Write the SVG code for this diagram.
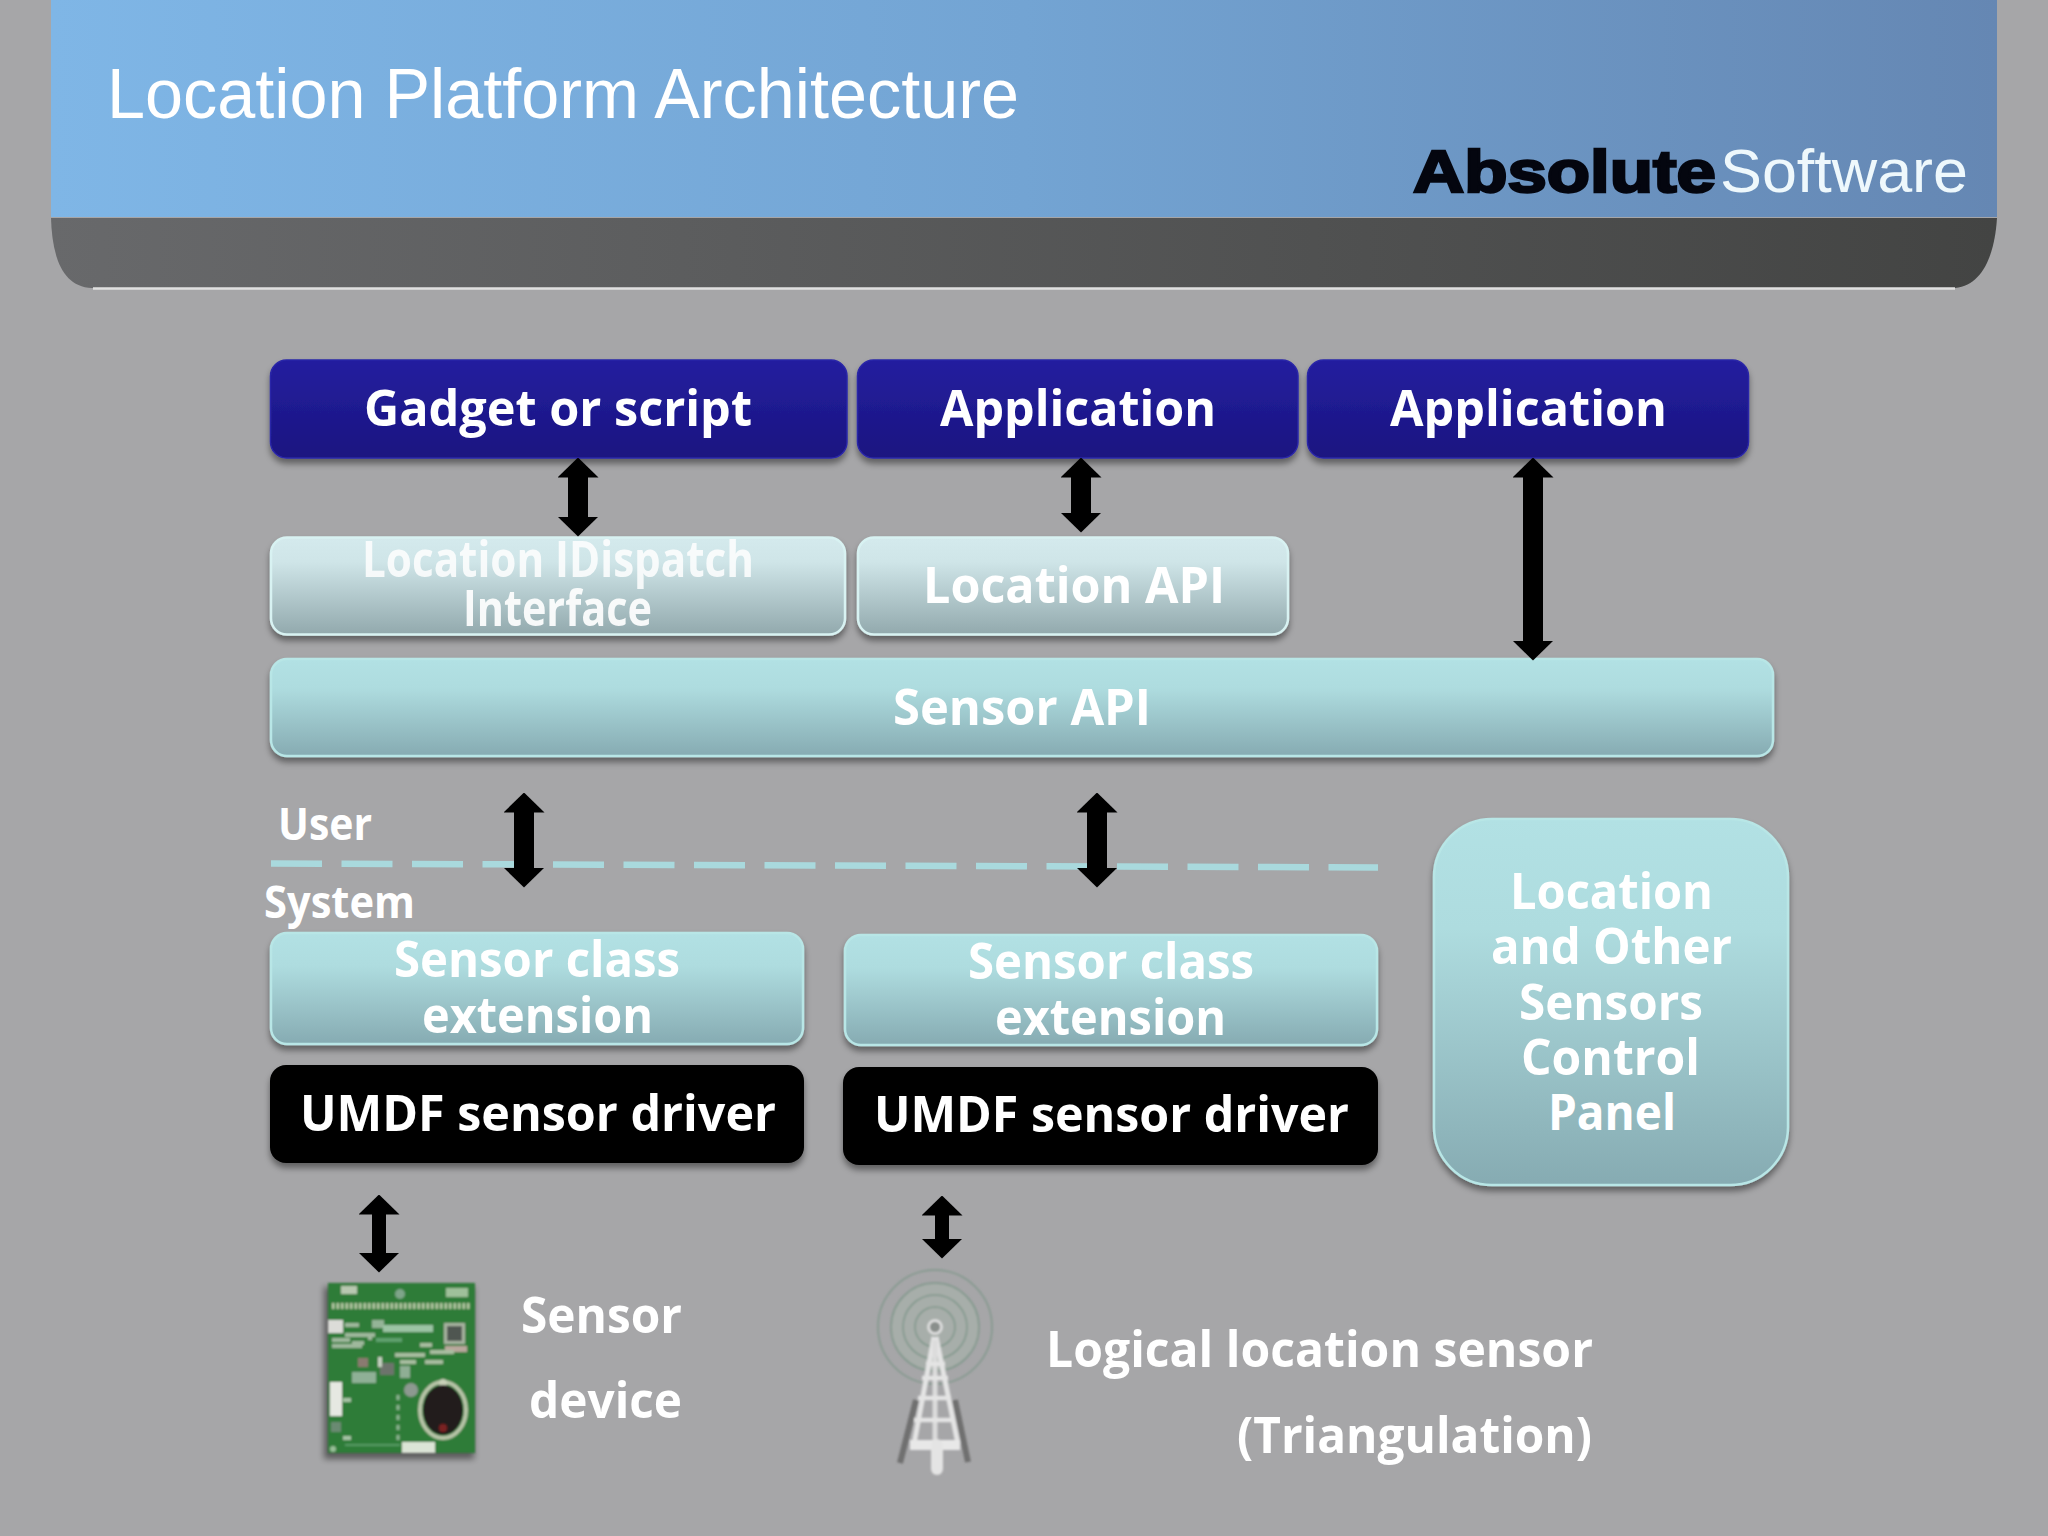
<svg xmlns="http://www.w3.org/2000/svg" width="2048" height="1536" viewBox="0 0 2048 1536">
<style>
text{font-family:"Open Sans","Noto Sans","Liberation Sans",sans-serif;font-weight:700;fill:#fff;font-size:50px}
.box{filter:url(#sh)}
.navy{fill:url(#gNavy);stroke:#2a26a8;stroke-width:1.5}
.pale{fill:url(#gPale);stroke:#d8f2f2;stroke-width:2.5}
.teal{fill:url(#gTeal);stroke:#b8e6e6;stroke-width:2.5}
.blk{fill:#000}
.a{stroke:#000;marker-start:url(#ah);marker-end:url(#ah);fill:none}
.w20{stroke-width:20}
.w14{stroke-width:14}
</style>
<defs>
<linearGradient id="gHead" x1="0" x2="1" y1="0" y2="0"><stop offset="0" stop-color="#7fb6e6"/><stop offset=".5" stop-color="#73a4d3"/><stop offset="1" stop-color="#6587b3"/></linearGradient>
<linearGradient id="gBand" x1="0" x2="1" y1="0" y2="0"><stop offset="0" stop-color="#68696b"/><stop offset="1" stop-color="#434443"/></linearGradient>
<linearGradient id="gNavy" x1="0" x2="0" y1="0" y2="1"><stop offset="0" stop-color="#241f9f"/><stop offset="1" stop-color="#1a1480"/></linearGradient>
<linearGradient id="gPale" x1="0" x2="0" y1="0" y2="1"><stop offset="0" stop-color="#d4eaed"/><stop offset=".25" stop-color="#cfe5e8"/><stop offset="1" stop-color="#92a9ad"/></linearGradient>
<linearGradient id="gTeal" x1="0" x2="0" y1="0" y2="1"><stop offset="0" stop-color="#b2e1e4"/><stop offset=".3" stop-color="#aedcdf"/><stop offset="1" stop-color="#86abb2"/></linearGradient>
<filter id="sh" x="-5%" y="-10%" width="110%" height="125%"><feDropShadow dx="0" dy="5" stdDeviation="3" flood-color="#000" flood-opacity=".42"/></filter>
<filter id="bl" x="-10%" y="-10%" width="120%" height="120%"><feGaussianBlur stdDeviation="1"/></filter>
<filter id="bs" x="-10%" y="-10%" width="120%" height="120%"><feGaussianBlur stdDeviation="3"/></filter>
<marker id="ah" viewBox="0 0 20 41" refX="0.5" refY="20.5" markerWidth="20" markerHeight="41" markerUnits="userSpaceOnUse" orient="auto-start-reverse"><path d="M0,0L20,20.5L0,41Z" fill="#000"/></marker>
</defs>
<rect width="2048" height="1536" fill="#a6a6a8"/>
<g id="header">
<path d="M51,218C52,252 60,287 92,288H1955C1985,285 1995,250 1997,218Z" fill="url(#gBand)"/>
<rect x="51" y="0" width="1946" height="217" fill="url(#gHead)"/>
<path d="M93,288.5H1955" stroke="#e0e0e0" stroke-width="2.5" fill="none"/>
<text x="107" y="118" textLength="912" lengthAdjust="spacingAndGlyphs" style="font-family:'Liberation Sans',sans-serif;font-weight:400;font-size:71px">Location Platform Architecture</text>
<text x="1413" y="192" textLength="303" lengthAdjust="spacingAndGlyphs" style="font-family:'Liberation Sans',sans-serif;font-weight:700;font-size:60px;fill:#04060f;stroke:#04060f;stroke-width:2.5">Absolute</text>
<text x="1720" y="192" textLength="248" lengthAdjust="spacingAndGlyphs" style="font-family:'Liberation Sans',sans-serif;font-weight:400;font-size:62px;fill:#eef8fc">Software</text>
</g>
<g id="gadget"><rect class="box navy" x="270.5" y="360" width="576.5" height="98" rx="16"/><text x="364" y="426" textLength="388" lengthAdjust="spacingAndGlyphs">Gadget or script</text></g>
<g id="app1"><rect class="box navy" x="857.5" y="360" width="440.5" height="98" rx="16"/><text x="940" y="426" textLength="276" lengthAdjust="spacingAndGlyphs">Application</text></g>
<g id="app2"><rect class="box navy" x="1307.5" y="360" width="441" height="98" rx="16"/><text x="1390" y="426" textLength="277" lengthAdjust="spacingAndGlyphs">Application</text></g>
<g id="idispatch"><rect class="box pale" x="271" y="537.5" width="574" height="97" rx="16"/><text x="362" y="577" textLength="392" lengthAdjust="spacingAndGlyphs" opacity=".85">Location IDispatch</text><text x="463" y="626" textLength="189" lengthAdjust="spacingAndGlyphs" opacity=".92">Interface</text></g>
<g id="locapi"><rect class="box pale" x="858" y="537.5" width="430" height="97" rx="16"/><text x="923" y="603" textLength="302" lengthAdjust="spacingAndGlyphs">Location API</text></g>
<g id="sensorapi"><rect class="box teal" x="271" y="659" width="1502" height="97" rx="16"/><text x="893" y="725" textLength="258" lengthAdjust="spacingAndGlyphs">Sensor API</text></g>
<g id="ext1"><rect class="box teal" x="271" y="933" width="532" height="111" rx="16"/><text x="394" y="977" textLength="286" lengthAdjust="spacingAndGlyphs">Sensor class</text><text x="422" y="1033" textLength="231" lengthAdjust="spacingAndGlyphs">extension</text></g>
<g id="ext2"><rect class="box teal" x="845" y="935" width="532" height="110" rx="16"/><text x="968" y="979" textLength="286" lengthAdjust="spacingAndGlyphs">Sensor class</text><text x="995" y="1035" textLength="231" lengthAdjust="spacingAndGlyphs">extension</text></g>
<g id="umdf1"><rect class="box blk" x="270" y="1065" width="534" height="98" rx="16"/><text x="300" y="1131" textLength="476" lengthAdjust="spacingAndGlyphs">UMDF sensor driver</text></g>
<g id="umdf2"><rect class="box blk" x="843" y="1067" width="535" height="98" rx="16"/><text x="874" y="1132" textLength="475" lengthAdjust="spacingAndGlyphs">UMDF sensor driver</text></g>
<g id="panel"><rect class="box teal" x="1434" y="819" width="354" height="366" rx="58"/><text x="1510" y="909" textLength="203" lengthAdjust="spacingAndGlyphs">Location</text><text x="1491" y="964" textLength="241" lengthAdjust="spacingAndGlyphs">and Other</text><text x="1519" y="1020" textLength="184" lengthAdjust="spacingAndGlyphs">Sensors</text><text x="1521" y="1075" textLength="179" lengthAdjust="spacingAndGlyphs">Control</text><text x="1548" y="1130" textLength="128" lengthAdjust="spacingAndGlyphs">Panel</text></g>
<g id="labels">
<text x="278" y="840" textLength="94" lengthAdjust="spacingAndGlyphs" style="font-size:44px">User</text>
<text x="264" y="918" textLength="151" lengthAdjust="spacingAndGlyphs" style="font-size:44px">System</text>
<text x="521" y="1333" textLength="161" lengthAdjust="spacingAndGlyphs">Sensor</text>
<text x="529" y="1418" textLength="153" lengthAdjust="spacingAndGlyphs">device</text>
<text x="1046" y="1367" textLength="547" lengthAdjust="spacingAndGlyphs">Logical location sensor</text>
<text x="1237" y="1453" textLength="355" lengthAdjust="spacingAndGlyphs">(Triangulation)</text>
</g>
<g id="divider"><line x1="271" y1="863.5" x2="1378" y2="867.5" stroke="#a9d9dd" stroke-width="6.5" stroke-dasharray="51 19.5"/></g>
<g id="connectors">
<line class="a w20" x1="578" y1="477" x2="578" y2="517"/>
<line class="a w20" x1="1081" y1="477" x2="1081" y2="513"/>
<line class="a w20" x1="1533" y1="477" x2="1533" y2="641"/>
<line class="a w20" x1="524" y1="812" x2="524" y2="868"/>
<line class="a w20" x1="1097" y1="812" x2="1097" y2="868"/>
<line class="a w14" x1="379" y1="1214" x2="379" y2="1253"/>
<line class="a w14" x1="942" y1="1215" x2="942" y2="1239"/>
</g>
<g id="sensor-board">
<rect x="324" y="1287" width="150" height="172" fill="#000" opacity=".45" filter="url(#bs)"/>
<g filter="url(#bl)">
<rect x="328" y="1283" width="147" height="170" fill="#2e7c38"/>
<path d="M332,1306H470" stroke="#b9cba8" stroke-width="6" stroke-dasharray="2.5 2"/>
<rect x="341" y="1286" width="16" height="8" fill="#b8c8b0"/>
<circle cx="400" cy="1294" r="5" fill="#7fa58a"/>
<rect x="446" y="1288" width="22" height="9" fill="#9fc09a"/>
<rect x="328" y="1320" width="15" height="13" fill="#dcdcd8"/>
<path d="M345,1325h14M345,1335h30M332,1340h18M332,1346h30M352,1343h12M368,1338h4" stroke="#9fb89c" stroke-width="4" fill="none"/>
<rect x="372" y="1320" width="12" height="8" fill="#94b497"/>
<rect x="383" y="1325" width="50" height="7" fill="#9cc4a4"/>
<rect x="376" y="1338" width="26" height="4" fill="#5fa06e"/>
<rect x="444" y="1323" width="21" height="21" fill="#a7b3a0"/>
<rect x="447" y="1326" width="15" height="15" fill="#4f5651"/>
<rect x="445" y="1346" width="22" height="6" fill="#b9a79c"/>
<path d="M395,1355h30M420,1345h12M430,1352h24M400,1362h16M425,1362h18" stroke="#a8bea0" stroke-width="4" fill="none"/>
<rect x="358" y="1358" width="10" height="9" fill="#8a7a70"/>
<rect x="380" y="1363" width="14" height="12" fill="#6d736c"/>
<rect x="378" y="1357" width="4" height="10" fill="#c4d0c0"/>
<rect x="352" y="1372" width="24" height="11" fill="#8fb096"/>
<rect x="400" y="1366" width="10" height="12" fill="#8fae94"/>
<rect x="330" y="1382" width="12" height="34" fill="#e6e8e2"/>
<circle cx="411" cy="1390" r="7" fill="#8d9990"/>
<path d="M398,1395V1445" stroke="#8fb594" stroke-width="3" stroke-dasharray="5 5" fill="none"/>
<path d="M345,1445H400" stroke="#69a674" stroke-width="1.5"/>
<rect x="343" y="1398" width="8" height="4" fill="#a6c4a4"/>
<rect x="343" y="1436" width="8" height="4" fill="#a6c4a4"/>
<rect x="331" y="1422" width="10" height="10" fill="#6a8a72"/>
<circle cx="333" cy="1449" r="3" fill="#9ac09a"/>
<ellipse cx="443" cy="1410" rx="23" ry="28" fill="none" stroke="#b8c4a8" stroke-width="4"/>
<circle cx="443" cy="1383" r="4" fill="#c8d0b8"/>
<ellipse cx="443" cy="1410" rx="20" ry="25" fill="#241c1c"/>
<circle cx="443" cy="1428" r="4" fill="#7a2020"/>
<rect x="402" y="1442" width="33" height="11" fill="#dbe4d6"/>
</g>
</g>
<g id="tower" filter="url(#bl)">
<circle cx="935" cy="1327" r="44" fill="#a7b5ac" opacity=".55"/>
<g fill="none" stroke="#80978b" stroke-width="1.5">
<circle cx="935" cy="1327" r="57"/><circle cx="935" cy="1327" r="44"/><circle cx="935" cy="1327" r="32"/><circle cx="935" cy="1327" r="20"/>
</g>
<path d="M916,1400L900,1463M955,1400L968,1462" stroke="#6f6f6f" stroke-width="6" fill="none"/>
<path d="M934,1337L914,1444M936,1337L958,1444" stroke="#e4e4e4" stroke-width="5" fill="none"/>
<path d="M935,1340V1444" stroke="#dcdcdc" stroke-width="5" fill="none"/>
<path d="M926,1364H945M922,1378H948M918,1398H951M914,1420H955" stroke="#e4e4e4" stroke-width="4.5" fill="none"/>
<path d="M910,1445H960" stroke="#e8e8e8" stroke-width="10" fill="none"/>
<path d="M937,1445V1469" stroke="#e4e4e4" stroke-width="12" stroke-linecap="round" fill="none"/>
<circle cx="935" cy="1327" r="6.5" fill="#8a8f8c" stroke="#e2e2e2" stroke-width="2.5"/>
</g>
</svg>
